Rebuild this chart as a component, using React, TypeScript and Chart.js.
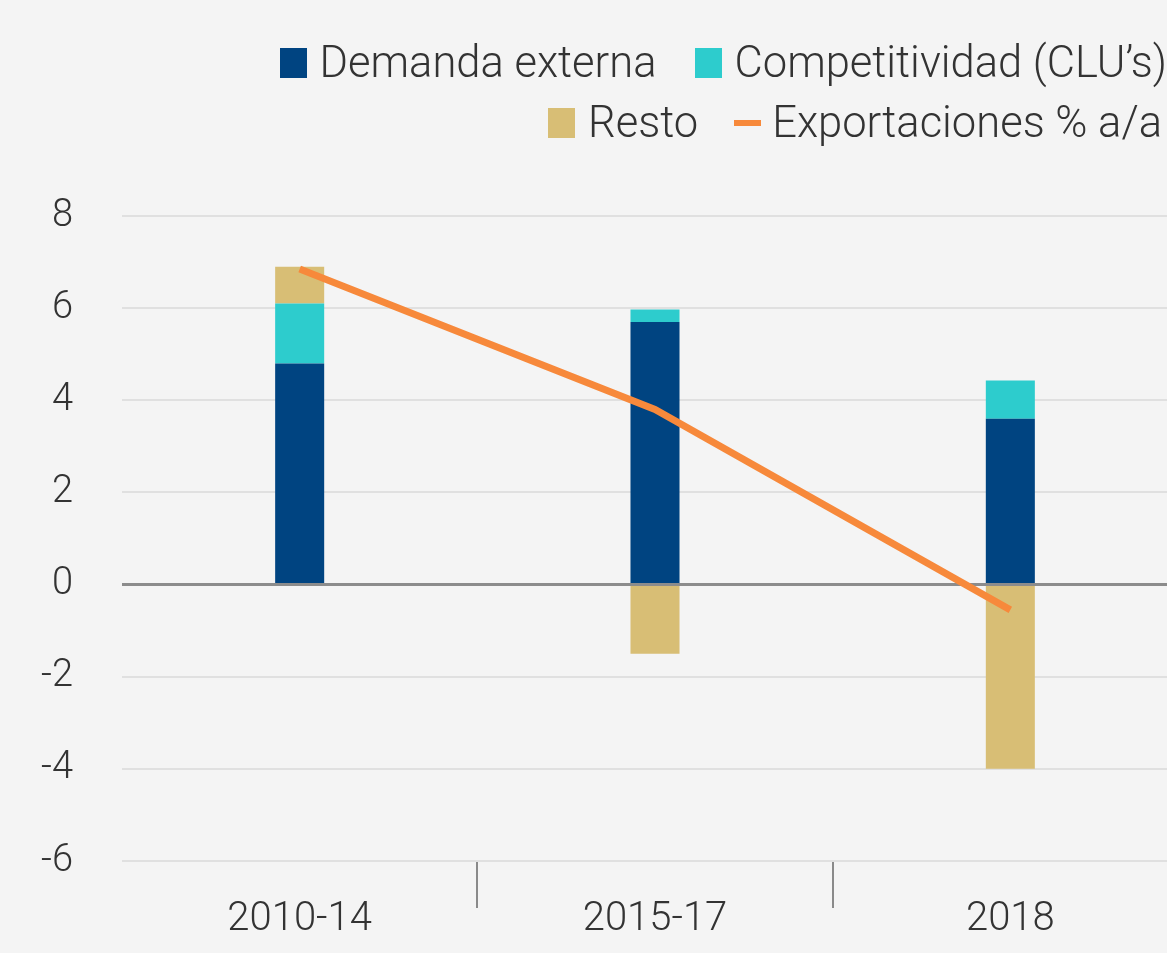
import React, { useEffect, useRef } from "react";
import { Chart, registerables } from "chart.js";

Chart.register(...registerables);

const categories = ["2010-14", "2015-17", "2018"];
const demandaExterna = [4.8, 5.7, 3.6];
const competitividad = [1.3, 0.27, 0.83];
const resto = [0.8, -1.5, -4.0];
const exportaciones = [6.85, 3.8, -0.55];
const yMin = -6;
const yMax = 8;
const yStep = 2;

const NAVY = "#004481";
const CYAN = "#2dcccd";
const GOLD = "#d8be75";
const ORANGE = "#f7893b";
const FONT = "Roboto, 'Liberation Sans', sans-serif";

const legendItems = [
  [
    { label: "Demanda externa", color: NAVY, kind: "box" },
    { label: "Competitividad (CLU’s)", color: CYAN, kind: "box" },
  ],
  [
    { label: "Resto", color: GOLD, kind: "box" },
    { label: "Exportaciones % a/a", color: ORANGE, kind: "line" },
  ],
];

export default function App() {
  const canvasRef = useRef<HTMLCanvasElement | null>(null);

  useEffect(() => {
    document.body.style.margin = "0";
    document.body.style.background = "#f4f4f4";
    document.body.style.overflow = "hidden";
    const canvas = canvasRef.current;
    if (!canvas) return;

    const chart = new Chart(canvas, {
      type: "bar",
      data: {
        labels: categories,
        datasets: [
          {
            type: "line",
            label: "Exportaciones % a/a",
            data: exportaciones,
            borderColor: ORANGE,
            backgroundColor: ORANGE,
            borderWidth: 7,
            pointRadius: 0,
            tension: 0,
            borderCapStyle: "butt",
            order: 0,
          },
          {
            label: "Demanda externa",
            data: demandaExterna,
            backgroundColor: NAVY,
            stack: "s",
            order: 1,
          },
          {
            label: "Competitividad (CLU’s)",
            data: competitividad,
            backgroundColor: CYAN,
            stack: "s",
            order: 1,
          },
          {
            label: "Resto",
            data: resto,
            backgroundColor: GOLD,
            stack: "s",
            order: 1,
          },
        ],
      },
      options: {
        animation: false,
        responsive: false,
        maintainAspectRatio: false,
        layout: { padding: { top: 216, right: 12, left: 0, bottom: 0 } },
        datasets: {
          bar: { barPercentage: 0.138, categoryPercentage: 1 },
        },
        plugins: {
          legend: { display: false },
          tooltip: { enabled: false },
        },
        scales: {
          x: {
            stacked: true,
            border: { display: false },
            grid: {
              offset: true,
              drawOnChartArea: false,
              drawTicks: true,
              tickLength: 47,
              lineWidth: 2,
              color: (ctx: any) => (ctx.index === 0 ? "rgba(0,0,0,0)" : "#8a8a8a"),
            },
            ticks: {
              padding: -12,
              color: "#333333",
              font: { family: FONT, size: 40, weight: 300 },
            },
            afterFit: (scale: any) => {
              scale.height = 92;
            },
          },
          y: {
            stacked: true,
            min: yMin,
            max: yMax,
            border: { display: false },
            grid: {
              drawTicks: false,
              lineWidth: (ctx: any) => (ctx.tick && ctx.tick.value === 0 ? 3 : 2),
              color: (ctx: any) => (ctx.tick && ctx.tick.value === 0 ? "#8c8c8c" : "#e0e0e0"),
            },
            ticks: {
              stepSize: yStep,
              padding: 49,
              color: "#333333",
              font: { family: FONT, size: 38, weight: 300 },
            },
            afterFit: (scale: any) => {
              scale.width = 122;
            },
          },
        },
      },
    });
    return () => chart.destroy();
  }, []);

  return (
    <div style={{ position: "relative", width: 1200, height: 953, background: "#f4f4f4", overflow: "hidden" }}>
      <canvas ref={canvasRef} width={1200} height={953} style={{ position: "absolute", left: 0, top: 0 }} />
      <div
        style={{
          position: "absolute",
          right: 1200 - 1167,
          top: 33,
          fontFamily: FONT,
          fontWeight: 300,
          fontSize: 43.5,
          color: "#333333",
          lineHeight: "50px",
          textAlign: "right",
        }}
      >
        {legendItems.map((row, ri) => (
          <div
            key={ri}
            style={{
              display: "flex",
              justifyContent: "flex-end",
              alignItems: "center",
              height: 60,
              whiteSpace: "nowrap",
              paddingRight: ri === 1 ? 5 : 0,
            }}
          >
            {row.map((it, ii) => (
              <div key={ii} style={{ display: "flex", alignItems: "center", marginLeft: ii === 0 ? 0 : it.kind === "line" ? 36 : 38 }}>
                {it.kind === "box" ? (
                  <span style={{ display: "inline-block", width: 27, height: 30, background: it.color, marginRight: 13 }} />
                ) : (
                  <span style={{ display: "inline-block", width: 27, height: 6, background: it.color, marginRight: 11 }} />
                )}
                <span>{it.label}</span>
              </div>
            ))}
          </div>
        ))}
      </div>
    </div>
  );
}
